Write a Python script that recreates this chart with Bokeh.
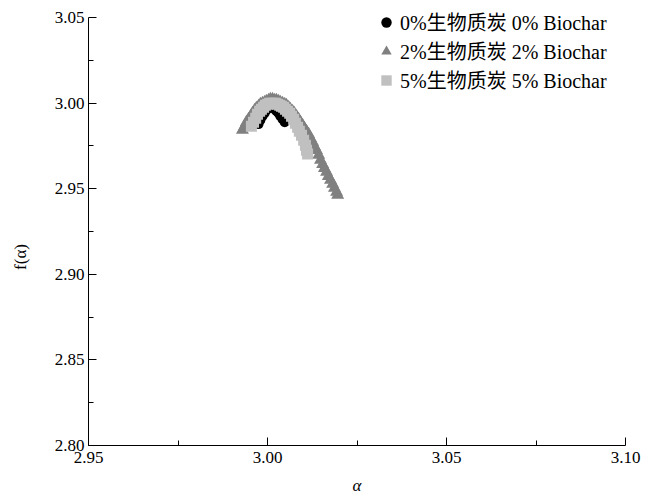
from bokeh.plotting import figure
from bokeh.models import Range1d, FixedTicker, PrintfTickFormatter, Legend, LegendItem
from bokeh.embed import file_html
from bokeh.resources import INLINE

# ---- data ----
alpha_0 = [2.9975, 2.9980, 2.9986, 2.9992, 2.9997, 3.0003, 3.0008,
           3.0014, 3.0020, 3.0025, 3.0031, 3.0036, 3.0042, 3.0048]
f_0 = [2.9877, 2.9900, 2.9923, 2.9941, 2.9958, 2.9970, 2.9976,
       2.9976, 2.9964, 2.9952, 2.9941, 2.9923, 2.9906, 2.9888]

alpha_2 = [2.9930, 2.9936, 2.9941, 2.9947, 2.9953, 2.9958, 2.9964, 2.9969, 2.9975, 2.9980,
           2.9986, 2.9992, 2.9997, 3.0003, 3.0008, 3.0014, 3.0020, 3.0025, 3.0031, 3.0036,
           3.0042, 3.0048, 3.0053, 3.0059, 3.0064, 3.0070, 3.0075, 3.0081, 3.0087, 3.0092,
           3.0098, 3.0103, 3.0109, 3.0115, 3.0120, 3.0126, 3.0131, 3.0137, 3.0143, 3.0148,
           3.0154, 3.0159, 3.0165, 3.0170, 3.0176, 3.0182, 3.0187, 3.0193, 3.0196]
f_2 = [2.9842, 2.9865, 2.9888, 2.9906, 2.9923, 2.9941, 2.9958, 2.9970, 2.9981, 2.9993,
       2.9999, 3.0005, 3.0011, 3.0016, 3.0022, 3.0022, 3.0016, 3.0016, 3.0011, 3.0005,
       2.9999, 2.9993, 2.9987, 2.9976, 2.9964, 2.9952, 2.9941, 2.9923, 2.9906, 2.9888,
       2.9871, 2.9853, 2.9836, 2.9818, 2.9795, 2.9772, 2.9748, 2.9725, 2.9696, 2.9667,
       2.9643, 2.9620, 2.9597, 2.9573, 2.9550, 2.9527, 2.9504, 2.9480, 2.9463]

alpha_5 = [2.9955, 2.9961, 2.9967, 2.9972, 2.9978, 2.9983, 2.9989, 2.9994, 3.0000, 3.0006,
           3.0011, 3.0017, 3.0022, 3.0028, 3.0034, 3.0039, 3.0045, 3.0050, 3.0056, 3.0062,
           3.0067, 3.0073, 3.0078, 3.0084, 3.0089, 3.0095, 3.0101, 3.0106, 3.0109, 3.0112]
f_5 = [2.9865, 2.9888, 2.9911, 2.9935, 2.9952, 2.9964, 2.9976, 2.9987, 2.9993, 2.9999,
       2.9999, 2.9999, 2.9999, 2.9993, 2.9987, 2.9981, 2.9976, 2.9964, 2.9952, 2.9941,
       2.9923, 2.9906, 2.9882, 2.9859, 2.9836, 2.9812, 2.9783, 2.9754, 2.9725, 2.9702]

labels = ["0%生物质炭 0% Biochar", "2%生物质炭 2% Biochar", "5%生物质炭 5% Biochar"]
x_ticks = [2.95, 3.00, 3.05, 3.10]
x_minor = [2.975, 3.025, 3.075]
y_ticks = [2.80, 2.85, 2.90, 2.95, 3.00, 3.05]
y_minor = [2.825, 2.875, 2.925, 2.975, 3.025]
y_axis_bounds = (2.80, 3.05)

SERIF = "'Liberation Serif', 'Times New Roman', serif"
LEG_FONT = "'Liberation Serif', 'Noto Sans CJK SC', serif"

# frame runs to the top of the figure so the legend is not clipped;
# the axis itself stops at 3.05 (same scale as a 2.80-3.05 range over 429 px)
p = figure(width=648, height=497, output_backend="svg", toolbar_location=None,
           x_range=Range1d(2.95, 3.10), y_range=Range1d(2.80, 3.0599),
           min_border_left=88, min_border_right=23, min_border_top=0, min_border_bottom=51)
p.outline_line_color = None
p.xgrid.visible = False
p.ygrid.visible = False

r0 = p.scatter(alpha_0, f_0, marker="circle", size=10, fill_color="#000000", line_color=None)
r2 = p.scatter(alpha_2, f_2, marker="triangle", size=13, fill_color="#808080", line_color=None)
r5 = p.scatter(alpha_5, f_5, marker="square", size=11, fill_color="#c0c0c0", line_color=None)

for ax in (p.xaxis[0], p.yaxis[0]):
    ax.major_tick_in = 8
    ax.major_tick_out = 0
    ax.minor_tick_in = 5
    ax.minor_tick_out = 0
    ax.axis_line_color = "black"
    ax.major_tick_line_color = "black"
    ax.minor_tick_line_color = "black"
    ax.major_label_text_font = SERIF
    ax.major_label_text_font_size = "17px"
    ax.major_label_text_color = "black"
    ax.formatter = PrintfTickFormatter(format="%.2f")
    ax.axis_label_text_font = SERIF
    ax.axis_label_text_font_size = "17px"
    ax.axis_label_text_color = "black"

p.xaxis.ticker = FixedTicker(ticks=x_ticks, minor_ticks=x_minor)
p.yaxis.ticker = FixedTicker(ticks=y_ticks, minor_ticks=y_minor)
p.yaxis.bounds = y_axis_bounds
p.xaxis.axis_label = "α"
p.xaxis.axis_label_text_font_style = "italic"
p.xaxis.axis_label_standoff = 10
p.xaxis.major_label_standoff = 6
p.yaxis.axis_label = "f(α)" + "\u00a0" * 16
p.yaxis.axis_label_text_font_style = "normal"
p.yaxis.axis_label_standoff = 22
p.yaxis.major_label_standoff = 4

legend = Legend(items=[LegendItem(label=labels[0], renderers=[r0]),
                       LegendItem(label=labels[1], renderers=[r2]),
                       LegendItem(label=labels[2], renderers=[r5])],
                location=(284, 351), orientation="vertical")
legend.border_line_color = None
legend.background_fill_alpha = 0
legend.padding = 0
legend.margin = 0
legend.spacing = 0
legend.glyph_width = 28
legend.glyph_height = 26
legend.label_height = 26
legend.label_standoff = 0
legend.label_text_font = LEG_FONT
legend.label_text_font_size = "20px"
legend.label_text_color = "black"
p.add_layout(legend)

open("out.html", "w").write(file_html(p, INLINE))
